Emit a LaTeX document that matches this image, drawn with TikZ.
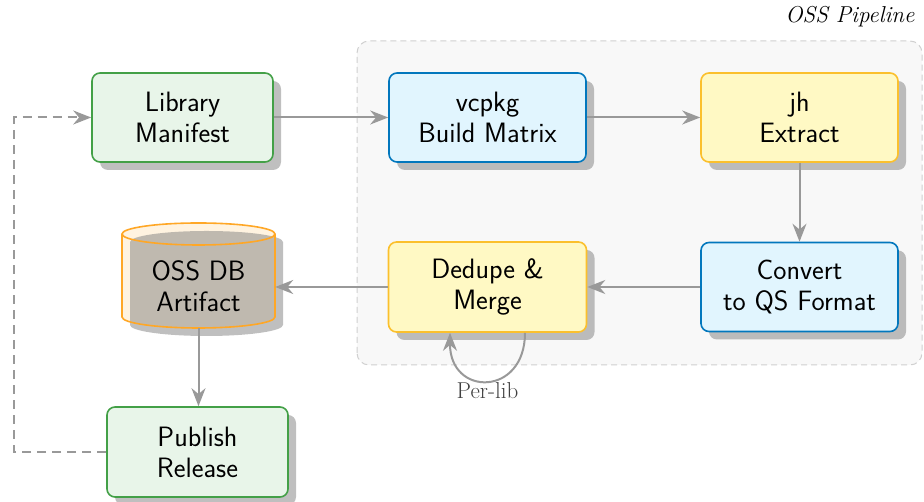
\documentclass[tikz,border=0pt]{standalone}
\usepackage{fontspec}
\usetikzlibrary{arrows.meta,shadows,positioning}
\definecolor{gborder}{HTML}{43A047}
\definecolor{gfill}{HTML}{E8F5E9}
\definecolor{bborder}{HTML}{0277BD}
\definecolor{bfill}{HTML}{E1F5FE}
\definecolor{yborder}{HTML}{FBC02D}
\definecolor{yfill}{HTML}{FFF9C4}
\definecolor{oborder}{HTML}{FFA726}
\definecolor{ofill}{HTML}{FFF3E0}
\definecolor{arrowgray}{HTML}{999999}
\definecolor{bgfill}{HTML}{F8F8F8}
\definecolor{bgborder}{HTML}{D0D0D0}
\tikzset{
  boxfont/.style={font=\sffamily\fontsize{28}{31}\selectfont},
  box/.style={rectangle, rounded corners=8pt, line width=1.6pt, align=center,
    boxfont, inner sep=0pt,
    drop shadow={shadow xshift=8pt, shadow yshift=-8pt, fill=black!50, opacity=0.5}},
  greenbox/.style={box, draw=gborder, fill=gfill, minimum width=181pt, minimum height=89pt},
  bluebox/.style={box, draw=bborder, fill=bfill, minimum width=197pt, minimum height=89pt},
  yellowbox/.style={box, draw=yborder, fill=yfill, minimum width=197pt, minimum height=89pt},
  conn/.style={draw=arrowgray, line width=2pt, -{Stealth[length=18pt,width=14pt]}},
  loopback/.style={draw=arrowgray, line width=2pt, dash pattern=on 9pt off 6pt, -{Stealth[length=18pt,width=14pt]}},
}
\begin{document}
\begin{tikzpicture}[x=1pt,y=1pt]
\useasboundingbox (0,0) rectangle (924,502);
% pipeline background
\draw[fill=bgfill, draw=bgborder, line width=1pt, dash pattern=on 6pt off 4pt, rounded corners=12pt]
  (357,137) rectangle (922,461);
\node[anchor=east, font=\rmfamily\itshape\fontsize{23}{27}\selectfont] (title) at (918,485) {OSS Pipeline};
% nodes
\node[greenbox] (lib) at (182.5,384.5) {Library\\Manifest};
\node[bluebox] (vcpkg) at (487.5,384.5) {vcpkg\\Build Matrix};
\node[yellowbox] (jh) at (799.5,384.5) {jh\\Extract};
\node[bluebox] (conv) at (799.5,215) {Convert\\to QS Format};
\node[yellowbox, minimum width=198pt, minimum height=90pt] (dedupe) at (487.5,215) {Dedupe \&\\Merge};
\node[greenbox, minimum height=90pt] (pub) at (197.5,50) {Publish\\Release};
% cylinder
\fill[ofill] (122,268) -- (122,185) arc[start angle=180,end angle=360,x radius=76.5pt,y radius=11pt]
  -- (275,268) arc[start angle=0,end angle=180,x radius=76.5pt,y radius=11pt] -- cycle;
\fill[black!50, opacity=0.5] (130,260) -- (130,177) arc[start angle=180,end angle=360,x radius=76.5pt,y radius=11pt]
  -- (283,260) arc[start angle=0,end angle=180,x radius=76.5pt,y radius=11pt] -- cycle;
\draw[oborder, line width=1.6pt] (122,268) -- (122,185) arc[start angle=180,end angle=360,x radius=76.5pt,y radius=11pt]
  -- (275,268);
\draw[oborder, line width=1.6pt] (198.5,268) ellipse[x radius=76.5pt, y radius=11pt];
\node[align=center, boxfont, minimum width=153pt, minimum height=84pt, inner sep=0pt] (db) at (198.5,216) {OSS DB\\Artifact};
% connectors
\draw[conn] (lib.east) -- (vcpkg.west);
\draw[conn] (vcpkg.east) -- (jh.west);
\draw[conn] (jh.south) -- (conv.north);
\draw[conn] (conv.west) -- (dedupe.east);
\draw[conn] (dedupe.west) -- (dedupe.west -| db.east);
\draw[conn] (db.south) -- (db.south |- pub.north);
\draw[loopback] (pub.west) -- ++(-92,0) |- (lib.west);
% self loop
\coordinate (lpA) at ([xshift=37.5pt]dedupe.south);
\coordinate (lpB) at ([xshift=-37.5pt]dedupe.south);
\draw[conn] (lpA) .. controls ([yshift=-64pt]lpA) and ([yshift=-64pt]lpB) .. (lpB);
\node[font=\rmfamily\fontsize{23}{27}\selectfont, text=black!75] (perlib) at (487.5,111) {Per-lib};
\end{tikzpicture}
\end{document}
